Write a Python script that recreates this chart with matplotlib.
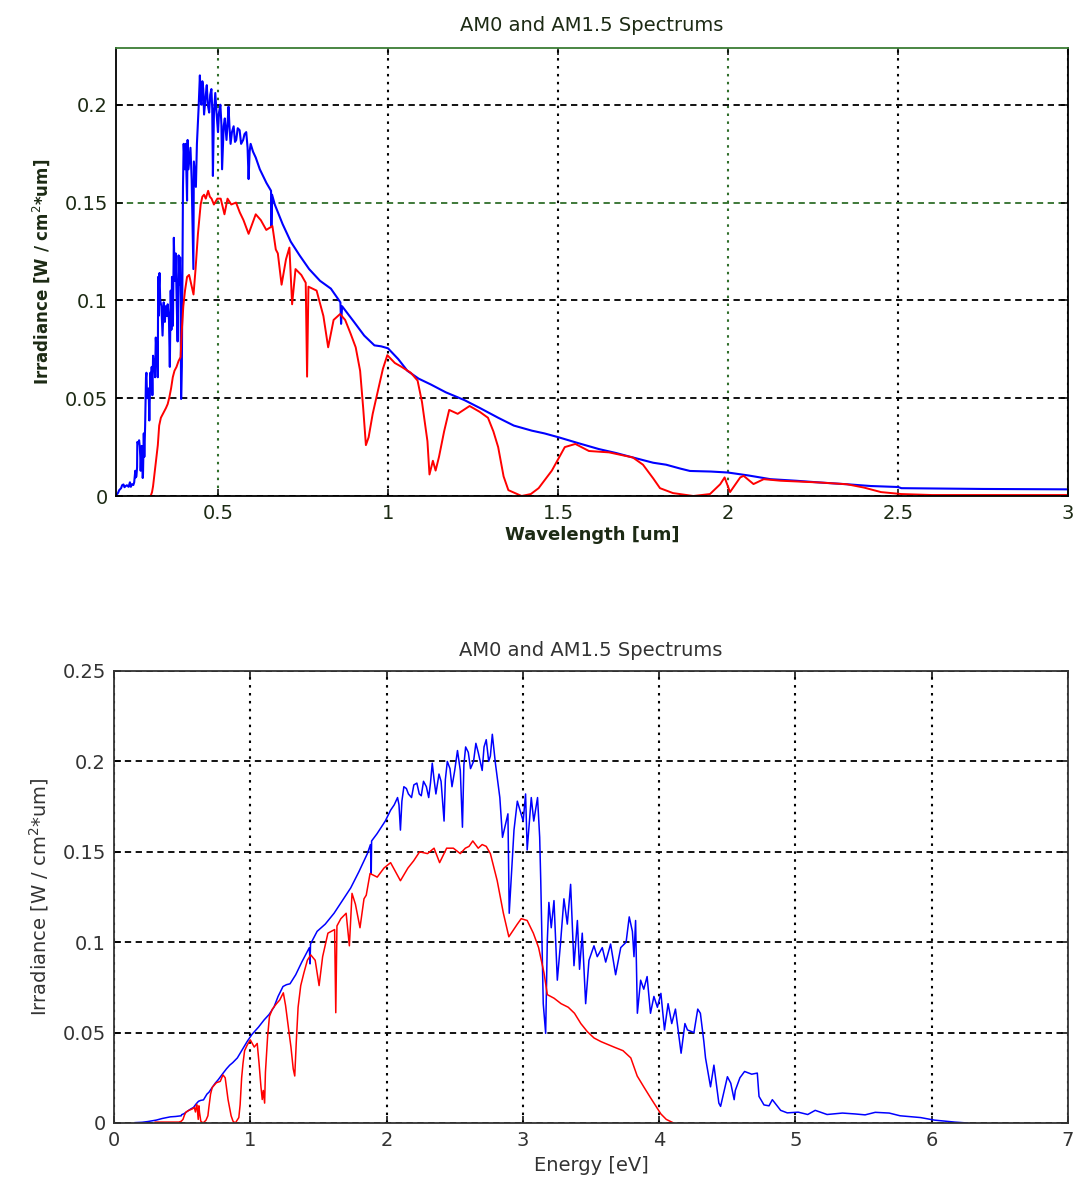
import numpy as np
import matplotlib
matplotlib.use("Agg")
import matplotlib.pyplot as plt

# AM0 spectrum (blue) - wavelength [um] and irradiance [W/cm^2/um]
am0_wavelength = [
    0.198, 0.201, 0.206, 0.2095, 0.215, 0.218, 0.222, 0.225, 0.228, 0.232,
    0.237, 0.241, 0.2436, 0.247, 0.251, 0.2535, 0.2567, 0.258, 0.26, 0.262,
    0.2627, 0.265, 0.268, 0.27, 0.272, 0.2725, 0.274, 0.2755, 0.2786, 0.2794,
    0.2817, 0.2833, 0.2857, 0.2865, 0.2882, 0.2895, 0.2914, 0.2947, 0.296, 0.298,
    0.301, 0.303, 0.305, 0.307, 0.309, 0.311, 0.313, 0.315, 0.317, 0.319,
    0.3209, 0.3229, 0.324, 0.325, 0.326, 0.328, 0.33, 0.3335, 0.3369, 0.3403,
    0.3437, 0.3461, 0.3497, 0.3521, 0.3558, 0.3583, 0.3609, 0.363, 0.3647, 0.3674,
    0.3701, 0.3728, 0.3756, 0.3784, 0.3812, 0.3841, 0.3865, 0.3886, 0.39, 0.3915,
    0.3937, 0.396, 0.397, 0.399, 0.4026, 0.405, 0.409, 0.4106, 0.413, 0.419,
    0.4225, 0.4276, 0.429, 0.435, 0.438, 0.443, 0.4467, 0.449, 0.451, 0.454,
    0.4567, 0.459, 0.461, 0.464, 0.467, 0.47, 0.474, 0.477, 0.4806, 0.483,
    0.485, 0.488, 0.492, 0.496, 0.5, 0.503, 0.507, 0.51, 0.512, 0.5167,
    0.52, 0.525, 0.528, 0.531, 0.534, 0.537, 0.541, 0.546, 0.55, 0.5536,
    0.558, 0.5636, 0.568, 0.574, 0.578, 0.583, 0.587, 0.59, 0.593, 0.596,
    0.603, 0.611, 0.623, 0.6425, 0.656, 0.657, 0.659, 0.667, 0.69, 0.714,
    0.74, 0.768, 0.80, 0.832, 0.86, 0.862, 0.865, 0.90, 0.93, 0.96,
    0.98, 1.0, 1.03, 1.057, 1.09, 1.126, 1.17, 1.225, 1.27, 1.324,
    1.37, 1.423, 1.46, 1.502, 1.56, 1.62, 1.67, 1.72, 1.78, 1.818,
    1.86, 1.888, 1.95, 2.0, 2.06, 2.125, 2.2, 2.27, 2.35, 2.42,
    2.5, 2.51, 2.62, 2.75, 2.9, 3.0, 3.5, 4.0, 5.0, 6.0,
    8.0,
]
am0_irradiance = [
    0.0, 0.0005, 0.0016, 0.003, 0.004, 0.0055, 0.0059, 0.0045, 0.005, 0.0055,
    0.0047, 0.007, 0.0047, 0.006, 0.0056, 0.007, 0.0129, 0.0095, 0.01, 0.0147,
    0.0276, 0.027, 0.0285, 0.025, 0.018, 0.0129, 0.022, 0.0256, 0.0092, 0.011,
    0.032, 0.02, 0.036, 0.045, 0.0607, 0.063, 0.05, 0.0515, 0.055, 0.0386,
    0.063, 0.055, 0.066, 0.0515, 0.0717, 0.064, 0.07, 0.0607, 0.081, 0.074,
    0.079, 0.0607, 0.112, 0.092, 0.106, 0.114, 0.1, 0.097, 0.082, 0.099,
    0.089, 0.097, 0.092, 0.098, 0.09, 0.066, 0.105, 0.085, 0.112, 0.087,
    0.132, 0.11, 0.124, 0.1, 0.079, 0.123, 0.108, 0.122, 0.101, 0.0496,
    0.066, 0.134, 0.158, 0.18, 0.167, 0.18, 0.151, 0.182, 0.167, 0.178,
    0.162, 0.116, 0.171, 0.158, 0.18, 0.1986, 0.215, 0.203, 0.2, 0.212,
    0.208, 0.195, 0.199, 0.205, 0.21, 0.2, 0.196, 0.205, 0.208, 0.198,
    0.1636, 0.195, 0.206, 0.195, 0.186, 0.196, 0.2, 0.19, 0.167, 0.189,
    0.193, 0.182, 0.19, 0.199, 0.188, 0.18, 0.186, 0.189, 0.181, 0.182,
    0.188, 0.187, 0.18, 0.182, 0.185, 0.186, 0.178, 0.162, 0.176, 0.18,
    0.176, 0.173, 0.167, 0.16, 0.156, 0.138, 0.154, 0.149, 0.139, 0.13,
    0.123, 0.116, 0.11, 0.106, 0.099, 0.088, 0.097, 0.089, 0.082, 0.077,
    0.0765, 0.0755, 0.07, 0.064, 0.06, 0.057, 0.053, 0.049, 0.045, 0.04,
    0.036, 0.0334, 0.032, 0.03, 0.027, 0.024, 0.022, 0.0197, 0.017, 0.016,
    0.014, 0.0128, 0.0125, 0.012, 0.0105, 0.0086, 0.0078, 0.0069, 0.006, 0.0051,
    0.0046, 0.004, 0.0038, 0.0036, 0.0035, 0.0034, 0.0025, 0.0016, 0.0008, 0.0004,
    0.0002,
]

# AM1.5 spectrum (red)
am15_wavelength = [
    0.302, 0.306, 0.309, 0.315, 0.319, 0.323, 0.327, 0.332, 0.338, 0.347,
    0.352, 0.357, 0.362, 0.367, 0.372, 0.378, 0.384, 0.39, 0.393, 0.398,
    0.403, 0.409, 0.415, 0.419, 0.428, 0.434, 0.441, 0.449, 0.454, 0.459,
    0.464, 0.471, 0.476, 0.481, 0.488, 0.498, 0.508, 0.519, 0.528, 0.539,
    0.553, 0.564, 0.575, 0.59, 0.611, 0.626, 0.642, 0.66, 0.67, 0.676,
    0.687, 0.7, 0.71, 0.718, 0.728, 0.745, 0.758, 0.762, 0.766, 0.79,
    0.81, 0.824, 0.84, 0.859, 0.874, 0.89, 0.905, 0.918, 0.927, 0.935,
    0.943, 0.955, 0.968, 0.985, 0.998, 1.02, 1.04, 1.067, 1.087, 1.1,
    1.116, 1.122, 1.132, 1.14, 1.15, 1.165, 1.18, 1.205, 1.24, 1.27,
    1.294, 1.31, 1.324, 1.34, 1.354, 1.393, 1.42, 1.443, 1.482, 1.52,
    1.551, 1.591, 1.65, 1.72, 1.75, 1.78, 1.8, 1.838, 1.898, 1.947,
    1.977, 1.99, 2.006, 2.036, 2.046, 2.075, 2.105, 2.155, 2.27, 2.35,
    2.4, 2.45, 2.51, 2.6, 3.0, 4.1,
]
am15_irradiance = [
    0.0, 0.002, 0.005, 0.014, 0.02, 0.026, 0.036, 0.04, 0.042, 0.045,
    0.047, 0.0505, 0.055, 0.0607, 0.064, 0.066, 0.069, 0.071, 0.083, 0.097,
    0.105, 0.112, 0.113, 0.11, 0.103, 0.116, 0.134, 0.149, 0.153, 0.154,
    0.152, 0.156, 0.153, 0.152, 0.149, 0.152, 0.152, 0.144, 0.152, 0.149,
    0.15, 0.145, 0.141, 0.134, 0.144, 0.141, 0.136, 0.138, 0.126, 0.124,
    0.108, 0.121, 0.127, 0.098, 0.116, 0.113, 0.109, 0.061, 0.107, 0.105,
    0.092, 0.076, 0.09, 0.093, 0.09, 0.083, 0.076, 0.064, 0.045, 0.026,
    0.03, 0.042, 0.052, 0.065, 0.072, 0.068, 0.066, 0.063, 0.059, 0.048,
    0.028, 0.011, 0.018, 0.013, 0.02, 0.033, 0.044, 0.042, 0.046, 0.043,
    0.04, 0.033, 0.025, 0.01, 0.003, 0.0, 0.001, 0.004, 0.013, 0.025,
    0.0266, 0.023, 0.0223, 0.0197, 0.016, 0.009, 0.004, 0.0015, 0.0, 0.001,
    0.006, 0.0095, 0.002, 0.0095, 0.0103, 0.0061, 0.0086, 0.0078, 0.0069, 0.006,
    0.0043, 0.002, 0.001, 0.0005, 0.0005, 0.0005,
]

# photon energy E[eV] = 1.24 / lambda[um]
am0_energy = 1.24 / np.array(am0_wavelength)
am15_energy = 1.24 / np.array(am15_wavelength)

title = "AM0 and AM1.5 Spectrums"
ylabel = "Irradiance [W / cm$^2$*um]"

W, H = 1078, 1183
fig = plt.figure(figsize=(W / 100, H / 100), dpi=100)
fig.patch.set_facecolor("white")

ax1 = fig.add_axes([116 / W, 1 - 496 / H, (1068 - 116) / W, (496 - 48) / H])
ax2 = fig.add_axes([114 / W, 1 - 1123 / H, (1068 - 114) / W, (1123 - 671) / H])


def matlab_style(ax, txt_color):
    ax.tick_params(direction="in", length=5, width=1.1, top=True, right=True,
                   labelsize=14, colors="black", labelcolor=txt_color, pad=6)
    for s in ax.spines.values():
        s.set_linewidth(1.3)
        s.set_color("black")
    ax.grid(True, which="major", axis="x", color="black", linestyle=(0, (1.2, 2.6)), linewidth=1.5)
    ax.grid(True, which="major", axis="y", color="black", linestyle=(0, (3.5, 2.5)), linewidth=1.3)
    ax.set_axisbelow(True)


# --- top: irradiance vs wavelength ---
ax1.plot(am0_wavelength, am0_irradiance, color="#0000ff", linewidth=1.5)
ax1.plot(am15_wavelength, am15_irradiance, color="#ff0000", linewidth=1.4)
ax1.set_xlim(0.2, 3)
ax1.set_ylim(0, 0.229)
ax1.set_xticks([0.5, 1, 1.5, 2, 2.5, 3])
ax1.set_xticklabels(["0.5", "1", "1.5", "2", "2.5", "3"])
ax1.set_yticks([0, 0.05, 0.1, 0.15, 0.2])
ax1.set_yticklabels(["0", "0.05", "0.1", "0.15", "0.2"])
top_txt = "#1c2a14"
matlab_style(ax1, top_txt)
ax1.spines["top"].set_color("#3a7d34")
# the scan shows a few grid lines in green
for val, line in zip(ax1.get_xticks(), ax1.xaxis.get_gridlines()):
    if val in (0.5, 2):
        line.set_color("#2f6e2a")
for val, line in zip(ax1.get_yticks(), ax1.yaxis.get_gridlines()):
    if val == 0.15:
        line.set_color("#2f6e2a")
ax1.set_title(title, fontsize=14, color=top_txt, pad=12)
ax1.set_xlabel("Wavelength [um]", fontsize=13, fontweight="bold", color=top_txt, labelpad=2)
ax1.set_ylabel(ylabel, fontsize=12, fontweight="bold", color=top_txt, labelpad=9)

# --- bottom: irradiance vs energy ---
ax2.plot(am0_energy, am0_irradiance, color="#0000ff", linewidth=1.1)
ax2.plot(am15_energy, am15_irradiance, color="#ff0000", linewidth=1.1)
ax2.set_xlim(0, 7)
ax2.set_ylim(0, 0.25)
ax2.set_xticks(range(8))
ax2.set_yticks([0, 0.05, 0.1, 0.15, 0.2, 0.25])
ax2.set_yticklabels(["0", "0.05", "0.1", "0.15", "0.2", "0.25"])
bot_txt = "#333333"
matlab_style(ax2, bot_txt)
for s in ax2.spines.values():
    s.set_color("#333333")
ax2.set_title(title, fontsize=14, color=bot_txt, pad=11)
ax2.set_xlabel("Energy [eV]", fontsize=14, color=bot_txt, labelpad=4)
ax2.set_ylabel(ylabel, fontsize=14, color=bot_txt, labelpad=8)

fig.savefig("out.png", dpi=100, facecolor="white")
